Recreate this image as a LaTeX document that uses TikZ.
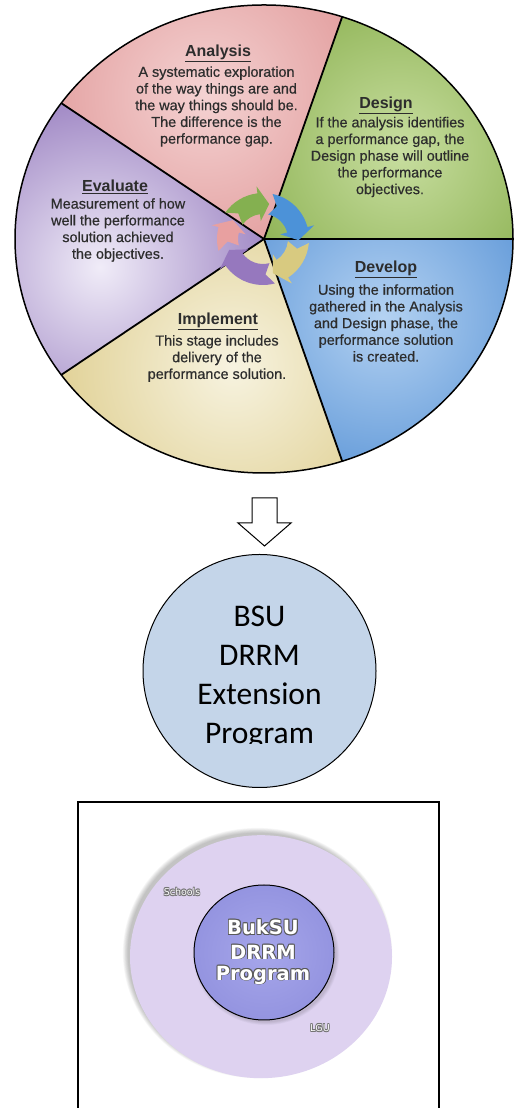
\documentclass[tikz,border=0pt]{standalone}
\usepackage{fontspec}
\setmainfont{Liberation Sans}
\newfontfamily\wheelfont[FakeBold=0.5]{Liberation Sans}
\newfontfamily\carlito{Carlito}
\newfontfamily\dejavu{DejaVu Sans}
\usetikzlibrary{calc,shapes.geometric}
\definecolor{anaE}{RGB}{216,128,128}
\definecolor{anaI}{RGB}{244,210,210}
\definecolor{desE}{RGB}{122,164,58}
\definecolor{desI}{RGB}{200,222,160}
\definecolor{devE}{RGB}{58,126,204}
\definecolor{devI}{RGB}{180,210,242}
\definecolor{impE}{RGB}{212,190,108}
\definecolor{impI}{RGB}{247,243,224}
\definecolor{evaE}{RGB}{128,96,176}
\definecolor{evaI}{RGB}{240,236,248}
\definecolor{ringG}{RGB}{132,176,80}
\definecolor{ringB}{RGB}{76,146,216}
\definecolor{ringY}{RGB}{216,202,128}
\definecolor{ringP}{RGB}{150,120,190}
\definecolor{ringR}{RGB}{232,160,160}
\definecolor{txt}{RGB}{45,45,45}
\definecolor{bsuFill}{RGB}{196,213,233}
\definecolor{lav}{RGB}{222,210,240}
\definecolor{innerC}{RGB}{148,148,224}
\definecolor{innerL}{RGB}{166,166,234}
\newcommand\outlinetext[3]{\leavevmode
\rlap{\kern#2\textcolor{#1}{#3}}%
\rlap{\kern-#2\textcolor{#1}{#3}}%
\rlap{\raisebox{#2}{\textcolor{#1}{#3}}}%
\rlap{\raisebox{-#2}{\textcolor{#1}{#3}}}%
\rlap{\kern#2\raisebox{#2}{\textcolor{#1}{#3}}}%
\rlap{\kern-#2\raisebox{#2}{\textcolor{#1}{#3}}}%
\rlap{\kern#2\raisebox{-#2}{\textcolor{#1}{#3}}}%
\rlap{\kern-#2\raisebox{-#2}{\textcolor{#1}{#3}}}%
\textcolor{white}{#3}}
\tikzset{
  wtitle/.style={font=\fontsize{16}{19}\selectfont\bfseries, text=txt, inner sep=0pt},
  wbody/.style={font=\wheelfont\fontsize{14.4}{16.7}\selectfont, text=txt, align=center, inner sep=0pt},
  bsutext/.style={font=\carlito\fontsize{31.5}{39}\selectfont, text=black, inner sep=0pt, anchor=base},
  buktext/.style={font=\dejavu\bfseries\fontsize{19.5}{24}\selectfont, inner sep=0pt},
  smalltext/.style={font=\dejavu\fontsize{9.5}{11}\selectfont, inner sep=0pt},
  divider/.style={line width=1.8pt, black},
}
\begin{document}
\begin{tikzpicture}[x=1pt,y=1pt]
\useasboundingbox (0,0) rectangle (518,1108);
\fill[white] (0,0) rectangle (518,1108);
% ---------- wheel ----------
\def\cx{264}\def\cy{869}\def\rx{249}\def\ry{234}
\foreach \a/\b/\ec/\ic/\hx/\hy/\hr in {0/71.7/desE/desI/400/958/115,
  71.7/144.5/anaE/anaI/205/1013/135,
  144.5/215.5/evaE/evaI/100/841/120,
  215.5/288.3/impE/impI/233/741/140,
  288.3/360/devE/devI/383/791/125}{
  \begin{scope}
    \clip (\cx,\cy) -- ++({\rx*cos(\a)},{\ry*sin(\a)}) arc[start angle=\a,end angle=\b,x radius=\rx,y radius=\ry] -- cycle;
    \fill[\ec] (\cx-260,\cy-260) rectangle (\cx+260,\cy+260);
    \shade[inner color=\ic, outer color=\ec] (\hx,\hy) circle[radius=2*\hr];
  \end{scope}
}
\foreach \a in {0,71.7,144.5,215.5,288.3}
  \draw[divider] (\cx,\cy) -- ++({\rx*cos(\a)},{\ry*sin(\a)});
\draw[line width=1.5pt] (\cx,\cy) ellipse[x radius=\rx, y radius=\ry];
% cycle ring
\begin{scope}[shift={(263,869)}]
\foreach \a/\b/\t/\c in {145/97/80/ringG, 78/15/-2/ringB, -5/-57/-74/ringY, -75/-145/-162/ringP, -165/-195/-212/ringR}{
  \fill[\c] (\a:46) arc[start angle=\a, end angle=\b, radius=46] -- (\b:53) -- (\t:35.5) -- (\b:18) -- (\b:25)
     arc[start angle=\b, end angle=\a, radius=25] -- ({\a-11}:35.5) -- cycle;
}
\end{scope}
% wheel texts
\node[wtitle] (anaT) at (218,1055) {\underline{Analysis}};
\node[wbody] (anaB) at (216.5,1001.5) {A systematic exploration\\of the way things are and\\the way things should be.\\The difference is the\\performance gap.};
\node[wtitle] (desT) at (386,1003) {\underline{Design}};
\node[wbody] (desB) at (390,951) {If the analysis identifies\\a performance gap, the\\Design phase will outline\\the performance\\objectives.};
\node[wtitle] (evaT) at (115,921) {\underline{Evaluate}};
\node[wbody] (evaB) at (118,878) {Measurement of how\\well the performance\\solution achieved\\the objectives.};
\node[wtitle] (devT) at (386,839) {\underline{Develop}};
\node[wbody] (devB) at (386,785) {Using the information\\gathered in the Analysis\\and Design phase, the\\performance solution\\is created.};
\node[wtitle] (impT) at (218,787) {\underline{Implement}};
\node[wbody] (impB) at (217,749.5) {This stage includes\\delivery of the\\performance solution.};
% ---------- block arrow ----------
\draw[line width=1pt, fill=white] (252,610) -- (277,610) -- (277,585) -- (291,585) -- (264.5,562) -- (238,585) -- (252,585) -- cycle;
% ---------- BSU circle ----------
\node[circle, draw=black, line width=1pt, fill=bsuFill, minimum size=233pt, inner sep=0pt] (bsu) at (259.5,437) {};
\begin{scope}
  \clip (100,364.5) rectangle (420,560);
  \node[bsutext] (bsuA) at (259.5,481) {BSU};
  \node[bsutext] (bsuB) at (259.5,442) {DRRM};
  \node[bsutext] (bsuC) at (259.5,403) {Extension};
  \node[bsutext] (bsuD) at (259.5,364) {Program};
\end{scope}
% ---------- bottom box ----------
\draw[line width=1.2pt] (78,0) -- (78,306) -- (439,306) -- (439,0);
\foreach \i in {1,...,8}
  \fill[black, opacity=0.03] (257.5,155) ellipse[x radius=129+\i*0.7, y radius=119.5+\i*0.7];
\node[ellipse, fill=lav, minimum width=262pt, minimum height=243pt, inner sep=0pt] (outer) at (261,151.3) {};
\foreach \i in {1,...,6}
  \fill[black, opacity=0.025] (266,153) ellipse[x radius=69.5+\i*0.6, y radius=66.5+\i*0.6];
\node[ellipse, draw=black, line width=1pt, inner color=innerL, outer color=innerC, minimum width=140pt, minimum height=135pt, inner sep=0pt] (inner) at (264,155.5) {};
\node[buktext] (buk1) at (263,181) {\outlinetext{black!65}{0.8pt}{BukSU}};
\node[buktext] (buk2) at (263,156) {\outlinetext{black!65}{0.8pt}{DRRM}};
\node[buktext] (buk3) at (263,133) {\outlinetext{black!65}{0.8pt}{Program}};
\node[smalltext] (schools) at (182,216) {\outlinetext{black!55}{0.55pt}{Schools}};
\node[smalltext] (lgu) at (320,80) {\outlinetext{black!55}{0.55pt}{LGU}};
\end{tikzpicture}
\end{document}
